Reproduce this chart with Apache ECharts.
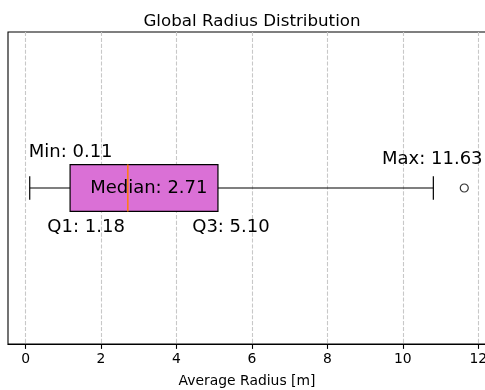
<!DOCTYPE html>
<html>
<head>
<meta charset="utf-8">
<script src="https://cdn.jsdelivr.net/npm/echarts@6/dist/echarts.min.js"></script>
<style>
  html, body { margin: 0; padding: 0; background: #fff; }
  #chart { width: 485px; height: 390px; }
</style>
</head>
<body>
<div id="chart"></div>
<script>
// Summary statistics of the average radius [m]
const statNames = ['Min', 'Q1', 'Median', 'Q3', 'Max'];
const statValues = [0.11, 1.18, 2.71, 5.10, 11.63];
// Whisker ends (1.5 IQR rule) and points beyond them
const whiskerLow = 0.11;
const whiskerHigh = 10.81;
const outliers = [11.63];
// Axis ticks
const tickValues = [0, 2, 4, 6, 8, 10, 12];

const FONT = 'DejaVu Sans';
const BOX_WIDTH = 0.15;

const stat = {};
statNames.forEach((n, i) => { stat[n] = statValues[i]; });

const span = stat.Max - stat.Min;
const xMin = stat.Min - 0.05 * span;
const xMax = stat.Max + 0.05 * span;

const chart = echarts.init(document.getElementById('chart'), null, { renderer: 'canvas' });

function renderBox(params, api) {
  const yv = api.value(0);
  const pLo = api.coord([api.value(1), yv]);
  const pQ1 = api.coord([api.value(2), yv]);
  const pMed = api.coord([api.value(3), yv]);
  const pQ3 = api.coord([api.value(4), yv]);
  const pHi = api.coord([api.value(5), yv]);
  const pMax = api.coord([api.value(6), yv]);
  const half = api.size([0, BOX_WIDTH])[1] / 2;
  const cy = pMed[1];
  const lineStyle = { stroke: '#000', lineWidth: 1.2 };
  const textStyle = (txt, x, y, align) => ({
    type: 'text',
    style: {
      text: txt, x: x, y: y, align: align, verticalAlign: 'middle',
      fill: '#000', font: '18px "' + FONT + '"'
    }
  });
  return {
    type: 'group',
    children: [
      { type: 'line', shape: { x1: pLo[0], y1: cy, x2: pQ1[0], y2: cy }, style: lineStyle },
      { type: 'line', shape: { x1: pQ3[0], y1: cy, x2: pHi[0], y2: cy }, style: lineStyle },
      { type: 'line', shape: { x1: pLo[0], y1: cy - half / 2, x2: pLo[0], y2: cy + half / 2 }, style: lineStyle },
      { type: 'line', shape: { x1: pHi[0], y1: cy - half / 2, x2: pHi[0], y2: cy + half / 2 }, style: lineStyle },
      {
        type: 'rect',
        shape: { x: pQ1[0], y: cy - half, width: pQ3[0] - pQ1[0], height: 2 * half },
        style: { fill: '#DA70D6', stroke: '#000', lineWidth: 1.2 }
      },
      { type: 'line', shape: { x1: pMed[0], y1: cy - half, x2: pMed[0], y2: cy + half }, style: { stroke: '#ff7f0e', lineWidth: 1.5 } },
      textStyle('Min: ' + api.value(1).toFixed(2), pLo[0] - 1, cy - 36, 'left'),
      textStyle('Max: ' + api.value(6).toFixed(2), pMax[0] - 32, cy - 28.5, 'center'),
      textStyle('Median: ' + api.value(3).toFixed(2), pMed[0] + 21, cy, 'center'),
      textStyle('Q1: ' + api.value(2).toFixed(2), pQ1[0] + 16, cy + 39, 'center'),
      textStyle('Q3: ' + api.value(4).toFixed(2), pQ3[0] + 13, cy + 39, 'center')
    ]
  };
}

chart.setOption({
  animation: false,
  backgroundColor: '#fff',
  title: {
    text: 'Global Radius Distribution',
    left: 247,
    top: 8,
    textAlign: 'center',
    textStyle: { fontFamily: FONT, fontSize: 16.7, fontWeight: 'normal', color: '#000' }
  },
  grid: {
    left: 8, top: 32, width: 478, bottom: 46,
    outerBoundsMode: 'none',
    containLabel: false,
    show: true, borderColor: '#000', borderWidth: 1.1, backgroundColor: 'transparent'
  },
  xAxis: {
    type: 'value',
    min: xMin,
    max: xMax,
    name: 'Average Radius [m]',
    nameLocation: 'middle',
    nameGap: 30,
    nameTextStyle: { fontFamily: FONT, fontSize: 13.9, color: '#000' },
    axisLine: { show: true, lineStyle: { color: '#000', width: 1.1 } },
    axisTick: { show: true, inside: false, length: 4.9, customValues: tickValues, lineStyle: { color: '#000', width: 1.1 } },
    axisLabel: { customValues: tickValues, margin: 8, fontFamily: FONT, fontSize: 13.9, color: '#000' },
    splitLine: { show: true, lineStyle: { color: '#c8c8c8', width: 1.1, type: [4.1, 1.8] } }
  },
  yAxis: {
    type: 'value',
    min: 0.5,
    max: 1.5,
    show: false
  },
  series: [
    {
      type: 'custom',
      renderItem: renderBox,
      data: [[1, whiskerLow, stat.Q1, stat.Median, stat.Q3, whiskerHigh, stat.Max]],
      encode: { x: [1, 2, 3, 4, 5, 6], y: 0 },
      z: 3
    },
    {
      type: 'scatter',
      data: outliers.map(v => [v, 1]),
      symbol: 'circle',
      symbolSize: 8,
      itemStyle: { color: 'transparent', borderColor: '#000', borderWidth: 1.2 },
      z: 4
    }
  ]
});
</script>
</body>
</html>
